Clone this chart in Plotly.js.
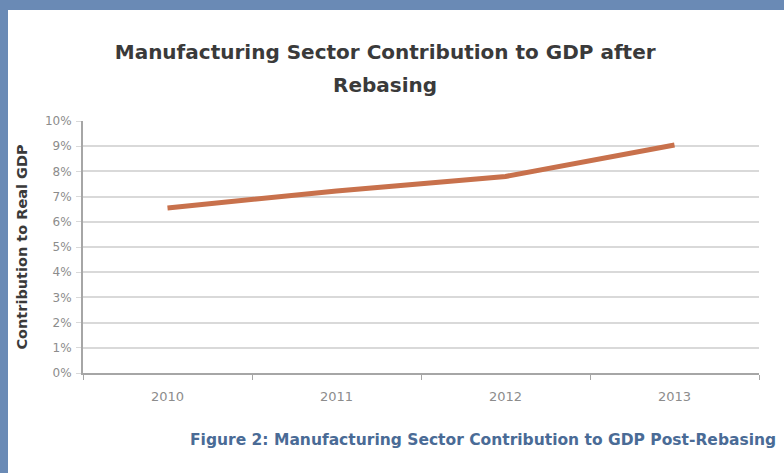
<!DOCTYPE html>
<html>
<head>
<meta charset="utf-8">
<script src="https://cdn.plot.ly/plotly-3.0.1.min.js"></script>
<style>
html,body{margin:0;padding:0;width:784px;height:473px;overflow:hidden;background:#6a8ab5;}
#chart{position:absolute;left:8px;top:10px;width:776px;height:463px;background:#fff;}
</style>
</head>
<body>
<div id="chart"></div>
<script>
const years = ['2010','2011','2012','2013'];
const contribution = [0.0655, 0.0722, 0.0780, 0.0905];
const yTicks = [0,0.01,0.02,0.03,0.04,0.05,0.06,0.07,0.08,0.09,0.10];
const yTickText = ['0%','1%','2%','3%','4%','5%','6%','7%','8%','9%','10%'];
const titleLine1 = 'Manufacturing Sector Contribution to GDP after';
const titleLine2 = 'Rebasing';
const captionText = 'Figure 2: Manufacturing Sector Contribution to GDP Post-Rebasing';

const trace = {
  x: years, y: contribution, type: 'scatter', mode: 'lines',
  line: {color: '#c8714c', width: 5}, hoverinfo: 'skip'
};
const titleFont = {family: 'DejaVu Sans, sans-serif', size: 20, color: '#3a3a3a', weight: 'bold'};
const layout = {
  width: 776, height: 463,
  margin: {l: 75, r: 25, t: 111, b: 100},
  paper_bgcolor: '#ffffff', plot_bgcolor: '#ffffff',
  showlegend: false,
  font: {family: 'DejaVu Sans, sans-serif', color: '#8c8c8c'},
  title: {
    text: titleLine1, x: 0.447, xanchor: 'center', xref: 'paper',
    y: 1 - 42/463, yref: 'container', yanchor: 'middle',
    font: titleFont
  },
  xaxis: {
    type: 'category', tickson: 'boundaries', ticks: 'outside', ticklen: 5, tickcolor: '#a6a6a6',
    showline: true, linecolor: '#a6a6a6', linewidth: 2, showgrid: false,
    tickfont: {size: 13, color: '#8c8c8c'}, range: [-0.5, 3.5], ticklabelstandoff: 10
  },
  yaxis: {
    range: [0, 0.1], tickvals: yTicks, ticktext: yTickText,
    ticks: 'outside', ticklen: 5, tickcolor: '#d9d9d9',
    showline: true, linecolor: '#a6a6a6', linewidth: 2,
    gridcolor: '#d9d9d9', gridwidth: 2, zeroline: false,
    tickfont: {size: 12, color: '#8c8c8c'}, ticklabelstandoff: 2,
    title: {text: 'Contribution to Real GDP', standoff: 14,
      font: {size: 14.5, color: '#3a3a3a', weight: 'bold'}}
  },
  annotations: [{
    text: '<b>' + titleLine2 + '</b>', xref: 'paper', yref: 'paper',
    x: 0.447, y: (363 - 75) / 252, xanchor: 'center', yanchor: 'middle', showarrow: false,
    font: titleFont
  }, {
    text: '<b>' + captionText + '</b>', xref: 'paper', yref: 'paper',
    x: 1.028, y: -0.266, xanchor: 'right', yanchor: 'middle', showarrow: false,
    font: {size: 15.5, color: '#4a6b96', family: 'DejaVu Sans, sans-serif'}
  }]
};
Plotly.newPlot('chart', [trace], layout, {displayModeBar: false, staticPlot: true});
</script>
</body>
</html>
